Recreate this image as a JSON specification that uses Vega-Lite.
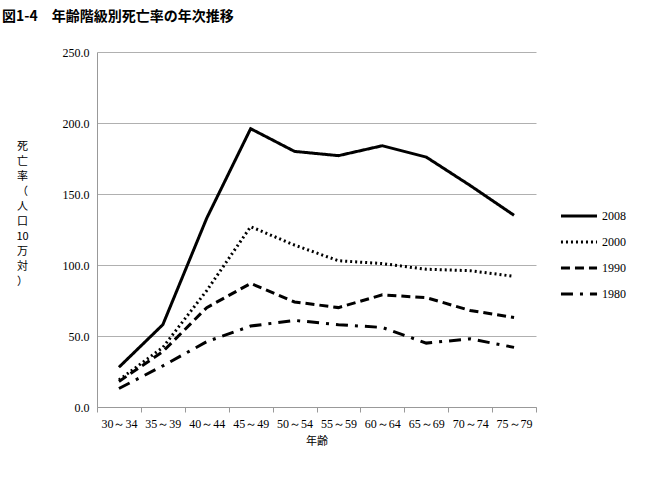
{
  "$schema": "https://vega.github.io/schema/vega-lite/v6.json",
  "autosize": "none",
  "width": 439,
  "height": 355,
  "padding": {"left": 97, "top": 52, "right": 118, "bottom": 78},
  "background": "white",
  "title": {
    "text": "図1-4　年齢階級別死亡率の年次推移",
    "anchor": "start",
    "frame": "group",
    "dx": -95,
    "dy": -10,
    "fontSize": 14,
    "font": "Noto Sans CJK JP",
    "fontWeight": "bold",
    "color": "#000000",
    "offset": 12
  },
  "config": {
    "view": {"stroke": null},
    "font": "Liberation Serif"
  },
  "data": {
    "values": [
      {"age": "30～34", "year": "2008", "v": 28},
      {"age": "35～39", "year": "2008", "v": 58},
      {"age": "40～44", "year": "2008", "v": 133},
      {"age": "45～49", "year": "2008", "v": 196},
      {"age": "50～54", "year": "2008", "v": 180},
      {"age": "55～59", "year": "2008", "v": 177},
      {"age": "60～64", "year": "2008", "v": 184},
      {"age": "65～69", "year": "2008", "v": 176},
      {"age": "70～74", "year": "2008", "v": 156},
      {"age": "75～79", "year": "2008", "v": 135},
      {"age": "30～34", "year": "2000", "v": 19},
      {"age": "35～39", "year": "2000", "v": 42},
      {"age": "40～44", "year": "2000", "v": 82},
      {"age": "45～49", "year": "2000", "v": 127},
      {"age": "50～54", "year": "2000", "v": 114},
      {"age": "55～59", "year": "2000", "v": 103},
      {"age": "60～64", "year": "2000", "v": 101},
      {"age": "65～69", "year": "2000", "v": 97},
      {"age": "70～74", "year": "2000", "v": 96},
      {"age": "75～79", "year": "2000", "v": 92},
      {"age": "30～34", "year": "1990", "v": 18},
      {"age": "35～39", "year": "1990", "v": 39},
      {"age": "40～44", "year": "1990", "v": 70},
      {"age": "45～49", "year": "1990", "v": 87},
      {"age": "50～54", "year": "1990", "v": 74},
      {"age": "55～59", "year": "1990", "v": 70},
      {"age": "60～64", "year": "1990", "v": 79},
      {"age": "65～69", "year": "1990", "v": 77},
      {"age": "70～74", "year": "1990", "v": 68},
      {"age": "75～79", "year": "1990", "v": 63},
      {"age": "30～34", "year": "1980", "v": 13},
      {"age": "35～39", "year": "1980", "v": 29},
      {"age": "40～44", "year": "1980", "v": 46},
      {"age": "45～49", "year": "1980", "v": 57},
      {"age": "50～54", "year": "1980", "v": 61},
      {"age": "55～59", "year": "1980", "v": 58},
      {"age": "60～64", "year": "1980", "v": 56},
      {"age": "65～69", "year": "1980", "v": 45},
      {"age": "70～74", "year": "1980", "v": 48},
      {"age": "75～79", "year": "1980", "v": 42}
    ]
  },
  "mark": {"type": "line", "strokeWidth": 3, "color": "#000000"},
  "encoding": {
    "x": {
      "field": "age",
      "type": "ordinal",
      "sort": null,
      "scale": {"type": "band", "paddingInner": 0, "paddingOuter": 0},
      "axis": {
        "title": "年齢",
        "titleFont": "Noto Sans CJK JP",
        "titleFontWeight": "normal",
        "titleFontSize": 11,
        "titlePadding": 6,
        "labelAngle": 0,
        "labelFontSize": 12,
        "labelColor": "#000000",
        "labelPadding": 6,
        "domainColor": "#999999",
        "tickColor": "#999999",
        "tickBand": "extent",
        "tickSize": 5,
        "grid": false
      }
    },
    "y": {
      "field": "v",
      "type": "quantitative",
      "scale": {"domain": [0, 250]},
      "axis": {
        "values": [0, 50, 100, 150, 200, 250],
        "format": ".1f",
        "labelFontSize": 12,
        "labelColor": "#000000",
        "labelPadding": 8,
        "domainColor": "#999999",
        "ticks": false,
        "gridColor": "#b0b0b0",
        "title": ["死", "亡", "率", "（", "人", "口", "10", "万", "対", "）"],
        "titleAngle": 0,
        "titleFont": "Noto Sans CJK JP",
        "titleFontWeight": "normal",
        "titleFontSize": 11,
        "titleLineHeight": 15,
        "titleAlign": "center",
        "titleBaseline": "top",
        "titleX": -75,
        "titleY": 88
      }
    },
    "strokeDash": {
      "field": "year",
      "type": "nominal",
      "sort": ["2008", "2000", "1990", "1980"],
      "scale": {
        "domain": ["2008", "2000", "1990", "1980"],
        "range": [[1, 0], [2, 3], [9, 5], [12, 7, 3, 7]]
      },
      "legend": {
        "title": null,
        "orient": "none",
        "legendX": 462,
        "legendY": 144,
        "symbolType": "stroke",
        "symbolStrokeWidth": 3,
        "symbolSize": 1300,
        "symbolStrokeColor": "#000000",
        "rowPadding": 0,
        "labelFontSize": 12,
        "labelColor": "#000000",
        "labelOffset": 3
      }
    }
  }
}
